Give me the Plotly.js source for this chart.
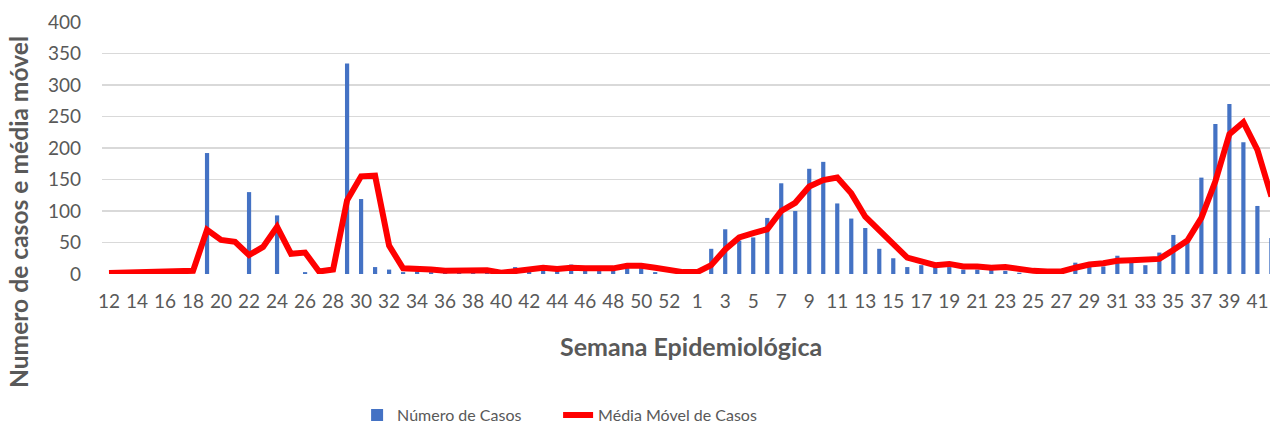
<!DOCTYPE html>
<html>
<head>
<meta charset="utf-8">
<script src="https://cdn.plot.ly/plotly-3.0.1.min.js"></script>
<style>html,body{margin:0;padding:0;background:#fff;}#chart{width:1270px;height:426px;}</style>
</head>
<body>
<div id="chart"></div>
<script>
// Epidemiological week labels (2020 weeks 12-53, then 2021 weeks 1-42)
const weekLabels = [
  "12","13","14","15","16","17","18","19","20","21","22","23","24","25","26","27","28","29","30","31","32",
  "33","34","35","36","37","38","39","40","41","42","43","44","45","46","47","48","49","50","51","52","53",
  "1","2","3","4","5","6","7","8","9","10","11","12","13","14","15","16","17","18","19","20","21",
  "22","23","24","25","26","27","28","29","30","31","32","33","34","35","36","37","38","39","40","41","42"
];
// Número de Casos
const casos = [
  0,0,0,0,0,0,0,192,-2,0,130,0,93,0,3,0,0,334,119,11,7,
  3,4,3,2,4,3,4,2,11,8,8,7,15,8,9,8,12,10,3,0,0,
  0,40,71,53,58,89,144,100,167,178,112,88,73,40,25,11,14,12,11,7,7,
  7,5,2,0,0,0,18,18,12,29,22,14,34,62,54,153,238,270,209,108,57
];
// Média Móvel de Casos
const mediaMovel = [
  1.5,2,1.5,2,2.5,3,5,70,54,51,30,43,75,32,34,4,7,117,155,156,45,
  9,8.5,7,5,6,5,6,2,5,7,10,8,10,9,10,9,13,13,10,6,3,
  3,14,39,58,65,71,100,113,139,149,153,128,91,70,46,26,20,14,16,12,12,
  10,11,7,5,4,4,10,15,17,21,22,22.5,24,38,53,89,147,222,241,197,123
];

const idx = weekLabels.map((_, i) => i);
const tickIdx = idx.filter(i => i % 2 === 0);
const tickTxt = tickIdx.map(i => weekLabels[i]);

const FONT = "Lato, 'Open Sans', sans-serif";
const GREY = "#595959";

const traces = [
  {
    type: "bar", name: "Número de Casos", x: idx, y: casos,
    width: 0.3, marker: {color: "#4472C4"}, hoverinfo: "x+y"
  },
  {
    type: "scatter", mode: "lines", name: "Média Móvel de Casos", x: idx, y: mediaMovel,
    line: {color: "#FF0000", width: 6, shape: "linear"}
  }
];

const layout = {
  width: 1270, height: 426,
  margin: {l: 102, r: 0, t: 22, b: 152, autoexpand: false},
  paper_bgcolor: "#ffffff", plot_bgcolor: "#ffffff",
  font: {family: FONT, color: GREY},
  showlegend: true,
  legend: {
    orientation: "h", x: 0.2184, xanchor: "left", y: -0.56, yanchor: "middle",
    font: {family: FONT, size: 16, color: GREY}, itemgap: 0, entrywidth: 156,
    bgcolor: "rgba(0,0,0,0)"
  },
  xaxis: {
    range: [-0.5, 82.9], tickmode: "array", tickvals: tickIdx, ticktext: tickTxt,
    tickangle: 0, tickfont: {family: FONT, size: 19, color: GREY},
    showgrid: false, zeroline: false, showline: false, ticks: "", ticklabelstandoff: 14,
    fixedrange: true, automargin: false
  },
  yaxis: {
    range: [0, 400], dtick: 50, tickfont: {family: FONT, size: 19, color: GREY},
    gridcolor: "#d9d9d9", gridwidth: 1.5, zeroline: false, showline: false, ticks: "",
    ticklabelstandoff: 20, fixedrange: true, automargin: false
  },
  bargap: 0.7,
  annotations: [
    {
      text: "<b>Semana Epidemiológica</b>", xref: "paper", yref: "paper",
      x: 0.504, y: -0.286, xanchor: "center", yanchor: "middle", showarrow: false,
      font: {family: FONT, size: 25, color: GREY}
    },
    {
      text: "<b>Numero de casos e média móvel</b>", xref: "paper", yref: "paper",
      x: -0.0719, y: 0.246, xanchor: "center", yanchor: "middle", textangle: -90, showarrow: false,
      font: {family: FONT, size: 24.6, color: GREY}
    }
  ]
};

Plotly.newPlot("chart", traces, layout, {displayModeBar: false, staticPlot: true});
</script>
</body>
</html>
